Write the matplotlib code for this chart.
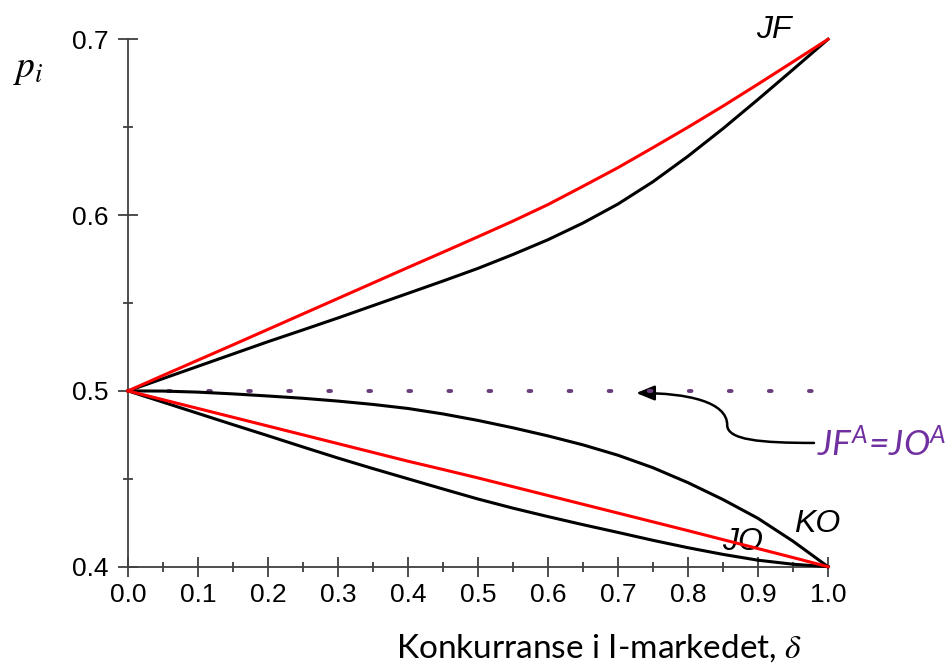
import matplotlib
matplotlib.use("Agg")
import matplotlib.pyplot as plt
from matplotlib.path import Path
from matplotlib.patches import FancyArrowPatch
from matplotlib.ticker import MultipleLocator, FormatStrFormatter

# Data
delta = [0.0, 0.05, 0.1, 0.15, 0.2, 0.25, 0.3, 0.35, 0.4, 0.45, 0.5,
         0.55, 0.6, 0.65, 0.7, 0.75, 0.8, 0.85, 0.9, 0.95, 1.0]
jf_red = [0.5, 0.5088, 0.5175, 0.5262, 0.5350, 0.5438, 0.5526, 0.5614, 0.5702, 0.5789, 0.5877,
          0.5966, 0.6060, 0.6164, 0.6270, 0.6384, 0.6500, 0.6620, 0.6745, 0.6872, 0.7]
jf_black = [0.5, 0.5070, 0.5140, 0.5210, 0.5280, 0.5347, 0.5415, 0.5485, 0.5555, 0.5625, 0.5697,
            0.5776, 0.5860, 0.5955, 0.6063, 0.6190, 0.6335, 0.6492, 0.6658, 0.6828, 0.7]
lav_red = [0.5, 0.4950, 0.4900, 0.4850, 0.4800, 0.4750, 0.4700, 0.4650, 0.4600, 0.4553, 0.4505,
           0.4455, 0.4405, 0.4355, 0.4305, 0.4255, 0.4205, 0.4154, 0.4103, 0.4052, 0.4]
ko_black = [0.5, 0.4999, 0.4993, 0.4983, 0.4971, 0.4958, 0.4942, 0.4923, 0.4900, 0.4869, 0.4832,
            0.4790, 0.4744, 0.4693, 0.4634, 0.4563, 0.4478, 0.4382, 0.4275, 0.4145, 0.4]
jo_black = [0.5, 0.4936, 0.4872, 0.4808, 0.4745, 0.4681, 0.4618, 0.4558, 0.4500, 0.4442, 0.4385,
            0.4333, 0.4285, 0.4239, 0.4195, 0.4150, 0.4108, 0.4070, 0.4037, 0.4014, 0.4]
nivaa_A = 0.5

plt.rcParams['mathtext.fontset'] = 'stix'
tick_font = 'Liberation Sans'

fig = plt.figure(figsize=(9.51, 6.65), dpi=100)
ax = fig.add_axes([128 / 951, 1 - 566.7 / 665, 700 / 951, 527.4 / 665])

# Kurver
ax.plot(delta, jf_black, color='black', lw=2.2, clip_on=False, zorder=3)
ax.plot(delta, jf_red, color='#ff0000', lw=2.2, clip_on=False, zorder=4)
ax.plot(delta, ko_black, color='black', lw=2.2, clip_on=False, zorder=3)
ax.plot(delta, jo_black, color='black', lw=2.2, clip_on=False, zorder=3)
ax.plot(delta, lav_red, color='#ff0000', lw=2.2, clip_on=False, zorder=4)

# Prikket linje JF^A = JO^A
ax.plot([0.0, 0.99], [nivaa_A, nivaa_A], color='#6a3d7c', lw=2.8,
        linestyle=(0, (0.7, 9.6)), dash_capstyle='round', zorder=2)

ax.set_xlim(0, 1)
ax.set_ylim(0.4, 0.7)

for s in ['top', 'right']:
    ax.spines[s].set_visible(False)
for s in ['left', 'bottom']:
    ax.spines[s].set_color('#404040')
    ax.spines[s].set_linewidth(1.3)

ax.xaxis.set_major_locator(MultipleLocator(0.1))
ax.xaxis.set_minor_locator(MultipleLocator(0.05))
ax.yaxis.set_major_locator(MultipleLocator(0.1))
ax.yaxis.set_minor_locator(MultipleLocator(0.05))
ax.xaxis.set_major_formatter(FormatStrFormatter('%.1f'))
ax.yaxis.set_major_formatter(FormatStrFormatter('%.1f'))
ax.tick_params(which='major', direction='inout', length=14.4, width=1.2,
               color='#303030', labelsize=19, pad=4.5)
ax.tick_params(which='minor', direction='inout', length=7.2, width=1.2,
               color='#303030')
ax.tick_params(axis='y', which='major', pad=6.5)
for lab in ax.get_xticklabels() + ax.get_yticklabels():
    lab.set_fontfamily(tick_font)

# Kurvenavn
ax.text(0.897, 0.701, 'JF', fontfamily=tick_font, style='italic',
        fontsize=23, va='baseline', ha='left')
ax.text(0.951, 0.420, 'KO', fontfamily=tick_font, style='italic',
        fontsize=23, va='baseline', ha='left')
ax.text(0.848, 0.4095, 'JO', fontfamily=tick_font, style='italic',
        fontsize=23, va='baseline', ha='left')
ax.text(0.985, 0.4625, r'JF$^\mathregular{A}$=JO$^\mathregular{A}$',
        fontfamily='Lato', style='italic', fontsize=25.5, color='#7030a0',
        va='baseline', ha='left', clip_on=False)

# Pil fra teksten til den prikkede linjen
verts = [(0.980, 0.4704), (0.903, 0.4704), (0.856, 0.4721), (0.856, 0.4806),
         (0.856, 0.4937), (0.800, 0.4988), (0.726, 0.4988)]
codes = [Path.MOVETO, Path.CURVE4, Path.CURVE4, Path.CURVE4,
         Path.CURVE4, Path.CURVE4, Path.CURVE4]
pil = FancyArrowPatch(path=Path(verts, codes),
                      arrowstyle='-|>,head_length=1.1,head_width=0.45',
                      mutation_scale=10, lw=1.8, color='black',
                      transform=ax.transData, clip_on=False)
ax.add_patch(pil)

# Aksetitler
fig.text(599 / 951, 1 - 658 / 665, r'Konkurranse i I-markedet, $\delta$',
         fontfamily='Lato', fontsize=24, ha='center', va='baseline')
fig.text(13 / 951, 1 - 77 / 665, r'$p_i$', fontsize=27, ha='left', va='baseline')

fig.savefig('out.png', dpi=100, facecolor='white')
